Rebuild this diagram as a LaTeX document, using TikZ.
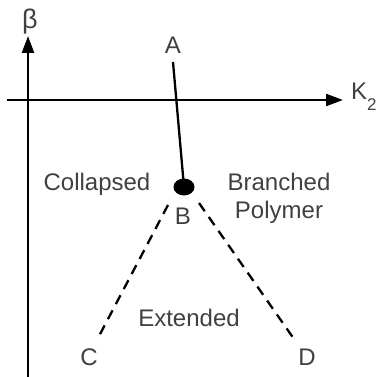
\documentclass[tikz,border=0pt]{standalone}
\usepackage{fontspec}
\setmainfont{Liberation Sans}
\usetikzlibrary{arrows.meta,shapes.geometric}
\definecolor{txt}{HTML}{404040}
\tikzset{
  lbl/.style={text=txt,font=\fontsize{24}{28}\selectfont,inner sep=0pt,anchor=center},
  axis/.style={line width=2.3pt,-{Triangle[length=17pt,width=12pt]}},
  solidln/.style={line width=2.3pt},
  dashln/.style={line width=2.3pt,dash pattern=on 10pt off 7pt},
  blob/.style={ellipse,fill=black,inner sep=0pt,minimum width=21pt,minimum height=17pt},
}
\begin{document}
\begin{tikzpicture}[x=1pt,y=-1pt]
\useasboundingbox (0,0) rectangle (378,377);
% axes
\coordinate (vb) at (28,377);
\coordinate (vt) at (28,36);
\coordinate (hl) at (7,100);
\coordinate (hr) at (343,100);
\draw[axis] (vb) -- (vt);
\draw[axis] (hl) -- (hr);
\node[lbl,font=\fontsize{27}{30}\selectfont] (beta) at (30,22) {β};
\node[lbl,anchor=west] (kappa) at (351,97) {K\raisebox{-11pt}{\fontsize{17}{20}\selectfont 2}};
% points
\node[lbl] (A) at (173,45) {A};
\node[blob] (Bdot) at (184,187) {};
\node[lbl] (B) at (183,216) {B};
\node[lbl] (C) at (89,357) {C};
\node[lbl] (D) at (307,357) {D};
\coordinate (Atop) at (173,62);
\coordinate (Bl) at (168,205);
\coordinate (Br) at (199,203);
\coordinate (Ce) at (98,338);
\coordinate (De) at (294,339);
\draw[solidln] (Atop) -- (Bdot.center);
\draw[dashln] (Bl) -- (Ce);
\draw[dashln] (Br) -- (De);
% region labels
\node[lbl] (col) at (97,184) {Collapsed};
\node[lbl,align=center] (bp) at (279,198) {Branched\\Polymer};
\node[lbl] (ext) at (189,318) {Extended};
\end{tikzpicture}
\end{document}
